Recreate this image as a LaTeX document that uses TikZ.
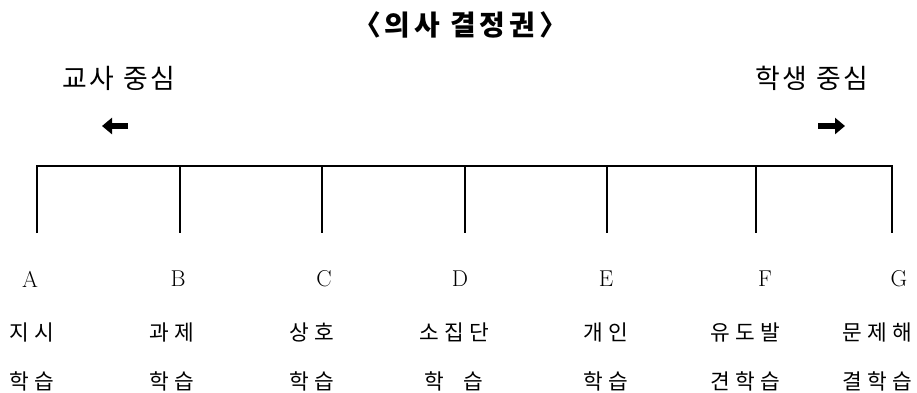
\documentclass[tikz,border=0pt]{standalone}
\usepackage{fontspec}
\newfontfamily\krhead[LetterSpace=14]{Noto Sans CJK KR}
\newfontfamily\krside[LetterSpace=10]{Noto Sans CJK KR}
\newfontfamily\krlbl[LetterSpace=25]{Noto Sans CJK KR}
\usetikzlibrary{arrows.meta}
\begin{document}
\begin{tikzpicture}[x=1bp,y=-1bp,
  axisline/.style={line width=2.6bp, line join=miter},
  lbl/.style={font=\krlbl\fontsize{21.5}{22}\selectfont, inner sep=0pt},
  head/.style={font=\krhead\bfseries\fontsize{28}{30}\selectfont, inner sep=0pt},
  side/.style={font=\krside\fontsize{27}{30}\selectfont, inner sep=0pt},
  letter/.style={font=\fontsize{23}{26}\selectfont, inner sep=0pt},
  blockarrow/.style={line width=6.5bp, -{Triangle[length=10bp,width=16bp]}}]
\useasboundingbox (0,0) rectangle (917,392);

% title and sides
\node[head] (title) at (460,25) {〈의사 결정권〉};
\node[side] (teacher) at (119,78) {교사 중심};
\node[side] (student) at (812,78) {학생 중심};

% block arrows
\coordinate (la1) at (128,126);
\coordinate (la2) at (102,126);
\coordinate (ra1) at (818,126);
\coordinate (ra2) at (845,126);
\draw[blockarrow] (la1) -- (la2);
\draw[blockarrow] (ra1) -- (ra2);

% axis
\foreach \n/\x in {1/37,2/180,3/322,4/465,5/607,6/756,7/892}{
  \coordinate (t\n) at (\x,166);
  \coordinate (b\n) at (\x,233);
}
\draw[axisline] (b1) -- (t1) -- (t7) -- (b7);
\foreach \n in {2,...,6}{ \draw[axisline] (t\n) -- (b\n); }

% letters
\node[letter] (A) at (30,279) {A};
\node[letter] (B) at (178,279) {B};
\node[letter] (C) at (324,279) {C};
\node[letter] (D) at (460,279) {D};
\node[letter] (E) at (606,279) {E};
\node[letter] (F) at (765,279) {F};
\node[letter] (G) at (899,279) {G};

% second row
\node[lbl] (A1) at (32,332) {지시};
\node[lbl] (B1) at (172,332) {과제};
\node[lbl] (C1) at (312,332) {상호};
\node[lbl] (D1) at (454,332) {소집단};
\node[lbl] (E1) at (606,332) {개인};
\node[lbl] (F1) at (745,332) {유도발};
\node[lbl] (G1) at (877,332) {문제해};

% third row
\node[lbl] (A2) at (32,381) {학습};
\node[lbl] (B2) at (172,381) {학습};
\node[lbl] (C2) at (312,381) {학습};
\node[lbl] (D2) at (454,381) {학\hspace{0.9em}습};
\node[lbl] (E2) at (606,381) {학습};
\node[lbl] (F2) at (745,381) {견학습};
\node[lbl] (G2) at (877,381) {결학습};
\end{tikzpicture}
\end{document}
